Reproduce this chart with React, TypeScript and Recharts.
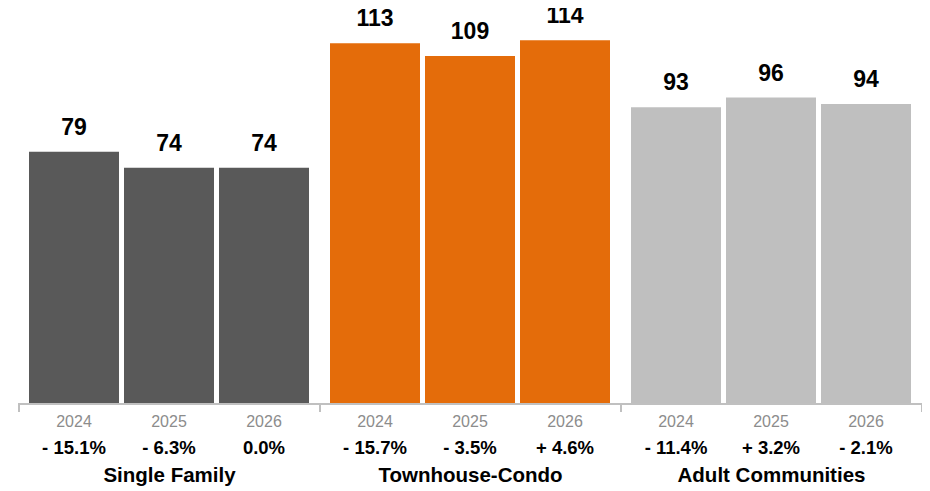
import React from 'react';
import { BarChart, Bar, XAxis, YAxis, Cell, LabelList } from 'recharts';

const categories = ['Single Family', 'Townhouse-Condo', 'Adult Communities'];
const years = ['2024', '2025', '2026'];
const values2024 = [79, 113, 93];
const values2025 = [74, 109, 96];
const values2026 = [74, 114, 94];
const pct2024 = ['- 15.1%', '- 15.7%', '- 11.4%'];
const pct2025 = ['- 6.3%', '- 3.5%', '+ 3.2%'];
const pct2026 = ['0.0%', '+ 4.6%', '- 2.1%'];
const colors = ['#595959', '#E46C0A', '#BFBFBF'];

const data = categories.map((name, i) => ({
  name,
  y2024: values2024[i],
  y2025: values2025[i],
  y2026: values2026[i],
}));

const series = [
  { key: 'y2024', year: years[0], pct: pct2024 },
  { key: 'y2025', year: years[1], pct: pct2025 },
  { key: 'y2026', year: years[2], pct: pct2026 },
];

const CHART_W = 914;
const CHART_H = 483;
const MARGIN = { top: 13, right: 0, left: 11, bottom: 0 };
const PLOT_W = CHART_W - MARGIN.left - MARGIN.right;
const BAND = PLOT_W / categories.length;
const FONT = '"Liberation Sans", Arial, Helvetica, sans-serif';

function box(props: any) {
  const vb = props.viewBox || {};
  return {
    x: props.x ?? vb.x,
    y: props.y ?? vb.y,
    width: props.width ?? vb.width,
    height: props.height ?? vb.height,
  };
}

const makeTopLabel = () => (props: any) => {
  const { x, y, width } = box(props);
  return (
    <text
      x={x + width / 2}
      y={y - 17}
      textAnchor="middle"
      fontFamily={FONT}
      fontWeight="bold"
      fontSize={23}
      fill="#000"
    >
      {props.value}
    </text>
  );
};

const makeBottomLabel = (year: string, pct: string[]) => (props: any) => {
  const { x, y, width, height } = box(props);
  const cx = x + width / 2;
  const base = y + height;
  const idx = props.index ?? 0;
  return (
    <g>
      <text x={cx} y={base + 23} textAnchor="middle" fontFamily={FONT} fontSize={16} fill="#8c8c8c">
        {year}
      </text>
      <text x={cx} y={base + 50} textAnchor="middle" fontFamily={FONT} fontWeight="bold" fontSize={18.5} fill="#000">
        {pct[idx]}
      </text>
    </g>
  );
};

const CategoryTick = (props: any) => {
  const { x, y, payload, index } = props;
  const left = x - BAND / 2;
  const right = x + BAND / 2;
  return (
    <g>
      <line x1={left} y1={y - 1} x2={left} y2={y + 8} stroke="#c0c0c0" strokeWidth={2} />
      {index === categories.length - 1 && (
        <line x1={right} y1={y - 1} x2={right} y2={y + 8} stroke="#c0c0c0" strokeWidth={2} />
      )}
      <text x={x} y={y + 78} textAnchor="middle" fontFamily={FONT} fontWeight="bold" fontSize={20.5} fill="#000">
        {payload.value}
      </text>
    </g>
  );
};

export default function App() {
  return (
    <div style={{ width: CHART_W, height: CHART_H }}>
      <style>{'.recharts-surface{overflow:visible}'}</style>
      <BarChart
        width={CHART_W}
        height={CHART_H}
        data={data}
        margin={MARGIN}
        barCategoryGap={10}
        barGap={5}
      >
        <XAxis
          dataKey="name"
          height={87}
          tickSize={0}
          tickMargin={0}
          tickLine={false}
          axisLine={{ stroke: '#c0c0c0', strokeWidth: 2 }}
          tick={<CategoryTick />}
          interval={0}
        />
        <YAxis hide domain={[0, 120]} />
        {series.map((s) => (
          <Bar key={s.key} dataKey={s.key} isAnimationActive={false}>
            {data.map((d, i) => (
              <Cell key={d.name} fill={colors[i]} />
            ))}
            <LabelList dataKey={s.key} content={makeTopLabel()} />
            <LabelList dataKey={s.key} content={makeBottomLabel(s.year, s.pct)} />
          </Bar>
        ))}
      </BarChart>
    </div>
  );
}
